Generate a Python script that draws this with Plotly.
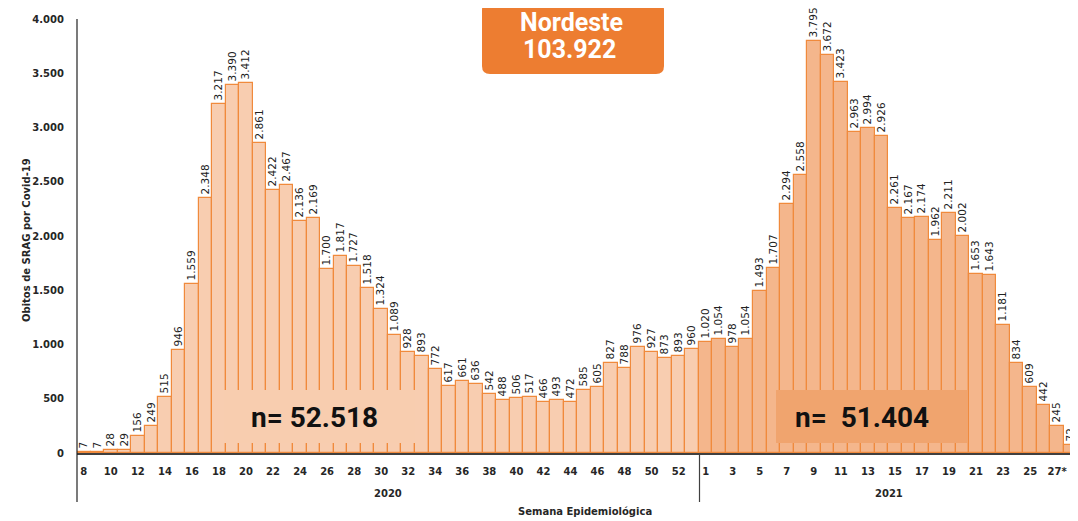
import plotly.graph_objects as go

# obitos por SRAG (Covid-19), Nordeste, por semana epidemiologica
semanas_2020 = [8, 9, 10, 11, 12, 13, 14, 15, 16, 17, 18, 19, 20, 21, 22, 23, 24, 25, 26, 27,
                28, 29, 30, 31, 32, 33, 34, 35, 36, 37, 38, 39, 40, 41, 42, 43, 44, 45, 46, 47,
                48, 49, 50, 51, 52, 53]
obitos_2020 = [7, 7, 28, 29, 156, 249, 515, 946, 1559, 2348, 3217, 3390, 3412, 2861, 2422, 2467,
               2136, 2169, 1700, 1817, 1727, 1518, 1324, 1089, 928, 893, 772, 617, 661, 636, 542,
               488, 506, 517, 466, 493, 472, 585, 605, 827, 788, 976, 927, 873, 893, 960]

semanas_2021 = ["1", "2", "3", "4", "5", "6", "7", "8", "9", "10", "11", "12", "13", "14", "15",
                "16", "17", "18", "19", "20", "21", "22", "23", "24", "25", "26", "27*", "28"]
obitos_2021 = [1020, 1054, 978, 1054, 1493, 1707, 2294, 2558, 3795, 3672, 3423, 2963, 2994, 2926,
               2261, 2167, 2174, 1962, 2211, 2002, 1653, 1643, 1181, 834, 609, 442, 245, 72]

total_regiao = "103.922"
total_2020 = "52.518"
total_2021 = "51.404"

# the page body has an 8px margin, so the figure is made 8px smaller and
# everything below is measured in page pixels
OFF = 8
W, H = 1078 - OFF, 521 - OFF
L, T, B = 77 - OFF, 19 - OFF, 68
PW = W - L
PH = H - T - B


def px(x):
    return (x - 77) / PW


def py(y):
    return (453 - y) / PH


n20 = len(obitos_2020)
n21 = len(obitos_2021)
x20 = list(range(n20))
x21 = list(range(n20, n20 + n21))

tickvals = x20[::2] + x21[::2]
ticktext = [str(s) for s in semanas_2020[::2]] + semanas_2021[::2]

edge = "#F08A3C"
lbl_font = dict(family="DejaVu Sans", size=10.5, color="#222222")

fig = go.Figure()
fig.add_trace(go.Bar(x=x20, y=obitos_2020, marker=dict(color="#F8CDB0", line=dict(color=edge, width=1.2)),
                     texttemplate="%{y:,d}", textposition="outside", textangle=-90,
                     constraintext="none", cliponaxis=False, textfont=lbl_font, width=1,
                     hoverinfo="skip", name="2020"))
fig.add_trace(go.Bar(x=x21, y=obitos_2021, marker=dict(color="#F4B68C", line=dict(color=edge, width=1.2)),
                     texttemplate="%{y:,d}", textposition="outside", textangle=-90,
                     constraintext="none", cliponaxis=False, textfont=lbl_font, width=1,
                     hoverinfo="skip", name="2021"))


def rounded_box(x0, y0, x1, y1, r):
    rx, ry = r / PW, r / PH
    a0, a1 = px(x0), px(x1)
    b0, b1 = py(y1), py(y0)  # bottom, top in paper
    return (f"M {a0+rx},{b1} L {a1-rx},{b1} Q {a1},{b1} {a1},{b1-ry} "
            f"L {a1},{b0+ry} Q {a1},{b0} {a1-rx},{b0} L {a0+rx},{b0} "
            f"Q {a0},{b0} {a0},{b0+ry} L {a0},{b1-ry} Q {a0},{b1} {a0+rx},{b1} Z")


shapes = [
    # eixo y prolongado ate a base das categorias
    dict(type="line", xref="paper", yref="paper", x0=0, x1=0, y0=1, y1=py(502),
         line=dict(color="#222222", width=1.2)),
    # divisao entre anos
    dict(type="line", xref="paper", yref="paper", x0=px(699.5), x1=px(699.5), y0=0, y1=py(502),
         line=dict(color="#404040", width=1.2)),
    # caixas n=
    dict(type="rect", xref="paper", yref="paper", x0=px(224), x1=px(415), y0=py(443), y1=py(390),
         fillcolor="#F8CDAF", line=dict(width=0)),
    dict(type="rect", xref="paper", yref="paper", x0=px(776), x1=px(968), y0=py(443), y1=py(390),
         fillcolor="#F0A46E", line=dict(width=0)),
    # caixa Nordeste
    dict(type="path", xref="paper", yref="paper", path=rounded_box(482, 2, 664, 74, 8),
         fillcolor="#ED7D31", line=dict(width=0)),
]

bold = dict(family="DejaVu Sans", size=10, color="#262626", weight="bold")
title_font = dict(family="Roboto", size=25, color="white", weight="bold")


def note(text, x, y, font, angle=0):
    return dict(text=text, xref="paper", yref="paper", x=px(x), y=py(y), xanchor="center",
                yanchor="middle", showarrow=False, font=font, textangle=angle)


annotations = [
    note("Nordeste", 571, 22, title_font),
    note(total_regiao, 569, 50, title_font),
    note(f"n= {total_2020}", 314, 417, dict(family="Roboto", size=28, color="#111111", weight="bold")),
    note(f"n=  {total_2021}", 862, 417, dict(family="Roboto", size=28, color="#111111", weight="bold")),
    note("2020", 388, 493, bold),
    note("2021", 889, 493, bold),
    note("Semana Epidemiológica", 585, 512, bold),
    note("Obitos de SRAG por Covid-19", 27, 240, bold, angle=-90),
]

fig.update_layout(
    width=W, height=H,
    margin=dict(l=L, r=0, t=T, b=B, pad=0),
    paper_bgcolor="white", plot_bgcolor="white",
    bargap=0, barmode="overlay", showlegend=False,
    separators=",.",
    shapes=shapes, annotations=annotations,
    xaxis=dict(range=[-0.5, 73.54], tickvals=tickvals, ticktext=ticktext, showgrid=False,
               zeroline=False, showline=True, linecolor="#404040", linewidth=1.5,
               ticks="outside", ticklen=8, tickcolor="rgba(0,0,0,0)",
               tickfont=bold, tickangle=0, automargin=False),
    yaxis=dict(range=[0, 4000], tickvals=list(range(0, 4001, 500)), tickformat=",d",
               showgrid=False, zeroline=False, showline=False,
               ticks="outside", ticklen=10, tickcolor="rgba(0,0,0,0)",
               tickfont=bold, automargin=False),
)

fig.write_html("out.html")
